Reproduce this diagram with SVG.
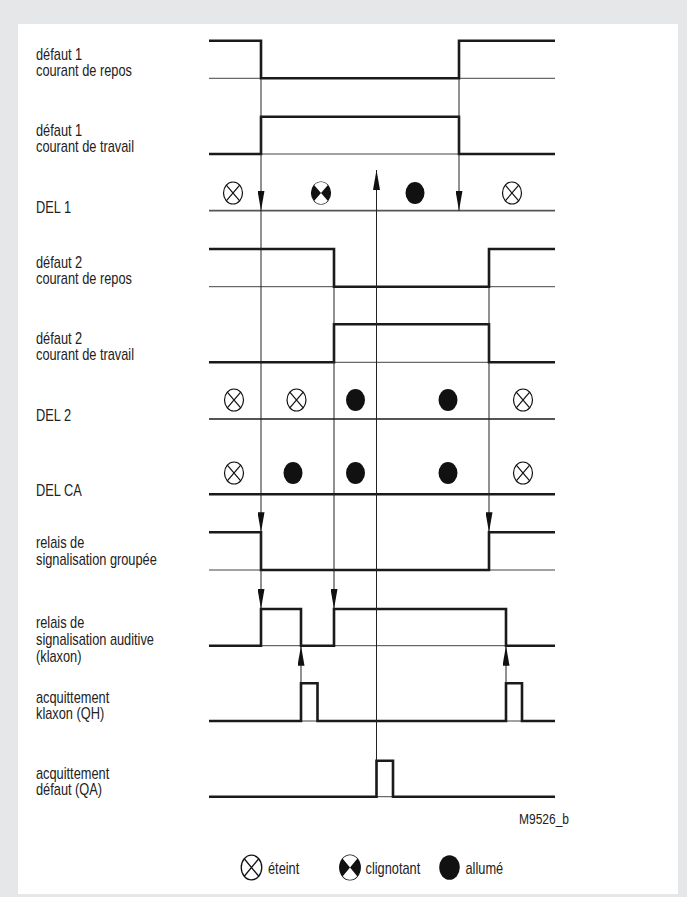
<svg xmlns="http://www.w3.org/2000/svg" width="687" height="897" viewBox="0 0 687 897">
<style>
.lbl{font-family:"Liberation Sans",Arial,sans-serif;font-size:16px;fill:#222}
.small{font-size:15px}
.base{stroke:#444;stroke-width:1;fill:none}
.wave{stroke:#1a1a1a;stroke-width:2.6;fill:none;stroke-linejoin:miter;stroke-linecap:butt}
.del{stroke:#555;stroke-width:1.8;fill:none}
.conn{stroke:#222;stroke-width:1;fill:none}
.arr{marker-end:url(#ah)}
</style>
<defs>
<marker id="ah" viewBox="0 0 20 7" refX="20" refY="3.5" markerWidth="20" markerHeight="7" markerUnits="userSpaceOnUse" orient="auto"><path d="M0,0 L20,3.5 L0,7 z" fill="#111"/></marker>
<g id="off"><ellipse rx="9.5" ry="11" fill="#fff" stroke="#111" stroke-width="1.2"/><path d="M-6.7,-7.8 L6.7,7.8 M6.7,-7.8 L-6.7,7.8" stroke="#111" stroke-width="1.2"/></g>
<g id="blink"><ellipse rx="9.5" ry="11" fill="#111" stroke="#111" stroke-width="1.2"/><path d="M0,0 L-6.7,-7.8 A9.5 11 0 0 1 6.7,-7.8 Z M0,0 L6.7,7.8 A9.5 11 0 0 1 -6.7,7.8 Z" fill="#fff"/></g>
<g id="on"><ellipse rx="9.5" ry="11" fill="#111"/></g>
</defs>
<rect x="0" y="0" width="687" height="897" fill="#e6e7e8"/>
<rect x="18" y="24" width="660" height="870" fill="#fff"/>

<g id="defaut1-repos">
<text class="lbl" transform="translate(36,59.5) scale(0.8,1)"><tspan x="0" y="0">défaut 1</tspan><tspan x="0" y="17">courant de repos</tspan></text>
<path class="base" d="M209,78.3 H555"/>
<path class="wave" d="M209,40.7 H261 V78.3 H459 V40.7 H555"/>
</g>

<g id="defaut1-travail">
<text class="lbl" transform="translate(36,135.5) scale(0.8,1)"><tspan x="0" y="0">défaut 1</tspan><tspan x="0" y="17">courant de travail</tspan></text>
<path class="base" d="M209,154 H555"/>
<path class="wave" d="M209,154 H261 V116.7 H459 V154 H555"/>
</g>

<g id="del1">
<text class="lbl" transform="translate(36,213) scale(0.8,1)">DEL 1</text>
<path class="del" d="M209,210.7 H555"/>
<use href="#off" x="233" y="193"/>
<use href="#blink" x="321" y="193"/>
<use href="#on" x="415" y="193"/>
<use href="#off" x="512" y="193"/>
</g>

<g id="defaut2-repos">
<text class="lbl" transform="translate(36,267.5) scale(0.8,1)"><tspan x="0" y="0">défaut 2</tspan><tspan x="0" y="17">courant de repos</tspan></text>
<path class="base" d="M209,286.7 H555"/>
<path class="wave" d="M209,249 H334 V286.7 H489 V249 H555"/>
</g>

<g id="defaut2-travail">
<text class="lbl" transform="translate(36,343.5) scale(0.8,1)"><tspan x="0" y="0">défaut 2</tspan><tspan x="0" y="17">courant de travail</tspan></text>
<path class="base" d="M209,362.3 H555"/>
<path class="wave" d="M209,362.3 H334 V324.3 H489 V362.3 H555"/>
</g>

<g id="del2">
<text class="lbl" transform="translate(36,421) scale(0.8,1)">DEL 2</text>
<path class="del" d="M209,419 H555"/>
<use href="#off" x="234" y="400"/>
<use href="#off" x="296.5" y="400"/>
<use href="#on" x="355.5" y="400"/>
<use href="#on" x="448" y="400"/>
<use href="#off" x="523" y="400"/>
</g>

<g id="delca">
<text class="lbl" transform="translate(36,496) scale(0.8,1)">DEL CA</text>
<path class="wave" d="M209,494.3 H555"/>
<use href="#off" x="234" y="473"/>
<use href="#on" x="293" y="473"/>
<use href="#on" x="355.5" y="473"/>
<use href="#on" x="448" y="473"/>
<use href="#off" x="523" y="473"/>
</g>

<g id="relais-groupee">
<text class="lbl" transform="translate(36,548) scale(0.8,1)"><tspan x="0" y="0">relais de</tspan><tspan x="0" y="17">signalisation groupée</tspan></text>
<path class="base" d="M209,570 H555"/>
<path class="wave" d="M209,532.3 H261 V570 H489 V532.3 H555"/>
</g>

<g id="relais-auditive">
<text class="lbl" transform="translate(36,628) scale(0.8,1)"><tspan x="0" y="0">relais de</tspan><tspan x="0" y="17">signalisation auditive</tspan><tspan x="0" y="34">(klaxon)</tspan></text>
<path class="base" d="M209,645.7 H555"/>
<path class="wave" d="M209,645.7 H261 V609 H301 V645.7 H334 V609 H506 V645.7 H555"/>
</g>

<g id="acquit-klaxon">
<text class="lbl" transform="translate(36,702.5) scale(0.8,1)"><tspan x="0" y="0">acquittement</tspan><tspan x="0" y="17">klaxon (QH)</tspan></text>
<path class="base" d="M209,721 H555"/>
<path class="wave" d="M209,721 H301 V683.3 H317.5 V721 H506 V683.3 H522 V721 H555"/>
</g>

<g id="acquit-defaut">
<text class="lbl" transform="translate(36,778.5) scale(0.8,1)"><tspan x="0" y="0">acquittement</tspan><tspan x="0" y="17">défaut (QA)</tspan></text>
<path class="base" d="M209,796.7 H555"/>
<path class="wave" d="M209,796.7 H376.5 V760.7 H393 V796.7 H555"/>
</g>

<g id="connectors">
<path class="conn arr" d="M261,78.3 V210.7"/>
<path class="conn arr" d="M261,210.7 V532.3"/>
<path class="conn arr" d="M261,532.3 V609"/>
<path class="conn arr" d="M459,78.3 V210.7"/>
<path class="conn arr" d="M334,286.7 V609"/>
<path class="conn arr" d="M489,286.7 V532.3"/>
<path class="conn arr" d="M376.5,760.7 V170"/>
<path class="conn arr" d="M301,683.3 V645.7"/>
<path class="conn arr" d="M506,683.3 V645.7"/>
</g>

<g id="ref">
<text class="lbl small" transform="translate(519,824) scale(0.8,1)">M9526_b</text>
</g>

<g id="legend">
<use href="#off" transform="translate(251.5,867.5) scale(1.08,1.12)"/>
<text class="lbl" transform="translate(268,874) scale(0.8,1)">éteint</text>
<use href="#blink" transform="translate(350,867.5) scale(1.08,1.12)"/>
<text class="lbl" transform="translate(365.5,874) scale(0.8,1)">clignotant</text>
<use href="#on" transform="translate(449.5,867.5) scale(1.08,1.12)"/>
<text class="lbl" transform="translate(465.5,874) scale(0.8,1)">allumé</text>
</g>
</svg>
